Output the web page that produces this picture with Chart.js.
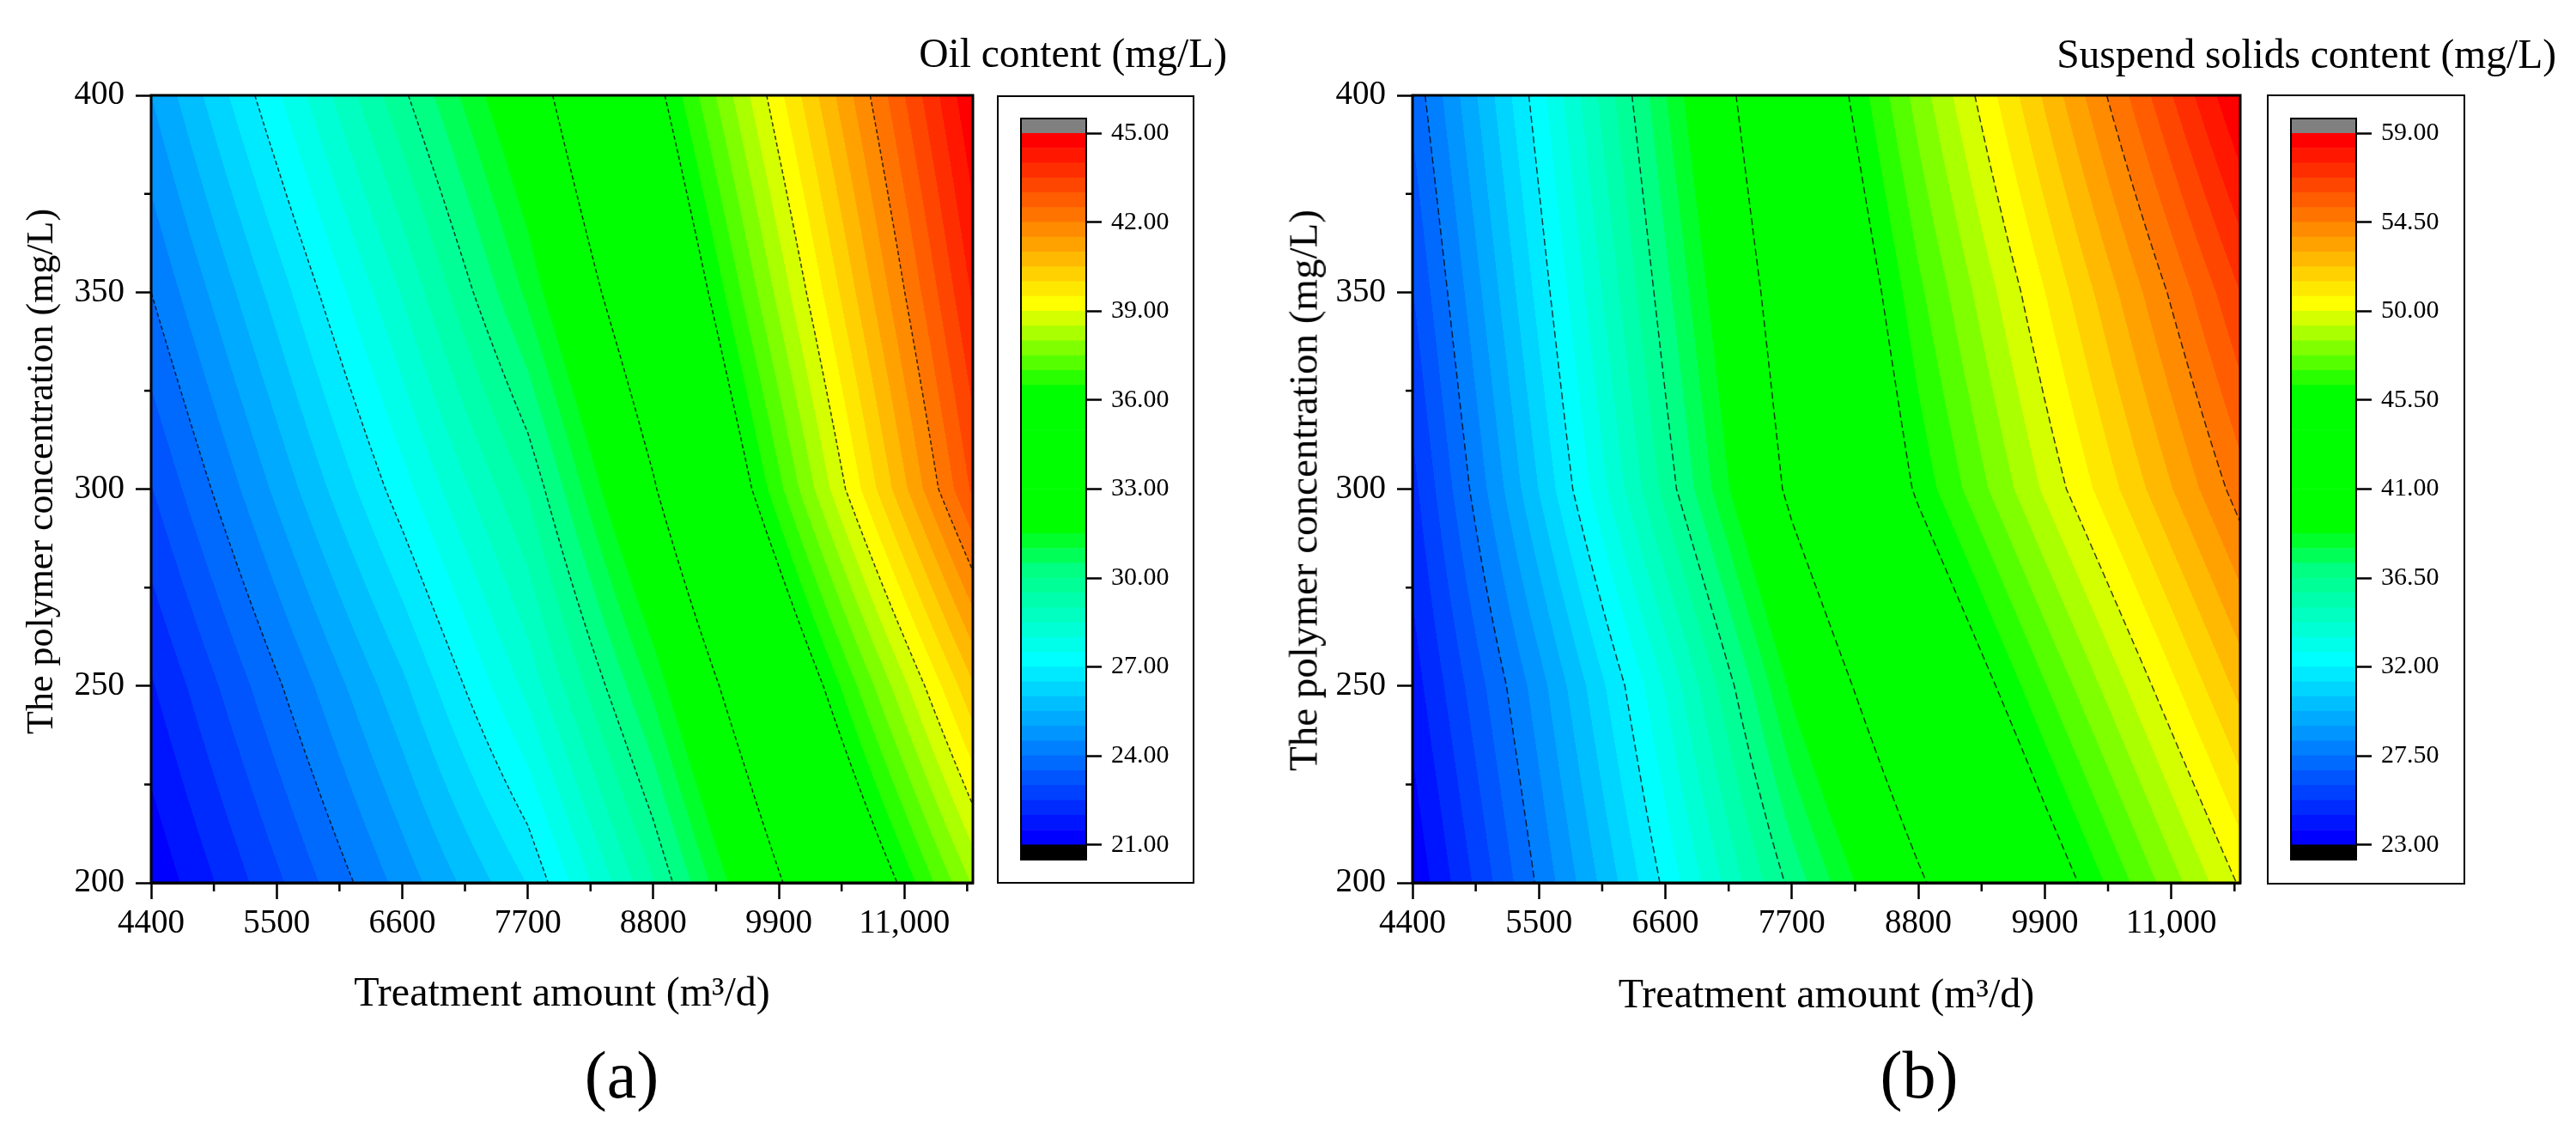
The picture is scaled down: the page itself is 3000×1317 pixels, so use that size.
<!DOCTYPE html>
<html>
<head>
<meta charset="utf-8">
<script src="https://cdn.jsdelivr.net/npm/chart.js@4.4.1/dist/chart.umd.min.js"></script>
<style>
html,body{margin:0;padding:0;background:#fff;width:3000px;height:1317px;overflow:hidden;}
canvas{position:absolute;}
.txt{position:absolute;font-family:'Liberation Serif','Times New Roman',serif;color:#000;white-space:nowrap;}
.ytitle{position:absolute;font-family:'Liberation Serif','Times New Roman',serif;color:#000;white-space:nowrap;transform:translate(-50%,-50%) rotate(-90deg);}
.box{position:absolute;border:2.5px solid #000;box-sizing:border-box;}
</style>
</head>
<body>
<div class="box" style="left:1161px;top:111px;width:230px;height:918px;"></div>
<div class="box" style="left:2640px;top:110px;width:231px;height:920px;"></div>
<canvas id="fieldA" width="1500" height="1317" style="left:0;top:0;width:1500px;height:1317px;"></canvas>
<canvas id="fieldB" width="1540" height="1317" style="left:1460px;top:0;width:1540px;height:1317px;"></canvas>
<canvas id="barA" width="200" height="930" style="left:1188px;top:100px;width:200px;height:930px;"></canvas>
<canvas id="barB" width="200" height="930" style="left:2667px;top:100px;width:200px;height:930px;"></canvas>
<div class="txt" style="right:1571px;top:39px;font-size:47.5px;line-height:47.5px;">Oil content (mg/L)</div>
<div class="txt" style="right:23px;top:40px;font-size:47.5px;line-height:47.5px;">Suspend solids content (mg/L)</div>
<div class="ytitle" style="left:47px;top:549px;font-size:44px;line-height:44px;">The polymer concentration (mg/L)</div>
<div class="ytitle" style="left:1518px;top:571px;font-size:47px;line-height:47px;">The polymer concentration (mg/L)</div>
<div class="txt" style="left:624px;width:200px;text-align:center;top:1213px;font-size:78px;line-height:78px;">(a)</div>
<div class="txt" style="left:2135px;width:200px;text-align:center;top:1213px;font-size:78px;line-height:78px;">(b)</div>
<script>
// ---------------- data ----------------
const treatmentAmount = [4400, 5500, 6600, 7700, 8800, 9900, 11000, 11600];
const polymerConc = [200, 250, 300, 350, 400];

// Oil content (mg/L), one array per polymer concentration row
const oilAt200 = [21.08, 22.89, 24.70, 26.52, 29.47, 32.89, 36.19, 38.06];
const oilAt250 = [21.94, 23.91, 25.88, 28.16, 31.13, 34.69, 38.39, 40.44];
const oilAt300 = [22.97, 25.12, 27.29, 29.55, 32.89, 36.85, 40.90, 43.11];
const oilAt350 = [24.00, 26.22, 28.54, 31.12, 34.32, 38.16, 41.99, 44.08];
const oilAt400 = [25.00, 27.42, 29.88, 32.34, 35.66, 39.36, 42.99, 44.97];

// Suspended solids content (mg/L)
const solidsAt200 = [23.11, 27.65, 32.20, 36.76, 40.75, 44.55, 48.17, 50.11];
const solidsAt250 = [24.11, 28.67, 33.57, 38.95, 43.23, 46.94, 50.55, 52.52];
const solidsAt300 = [25.00, 30.53, 36.03, 41.40, 45.71, 49.39, 52.96, 54.90];
const solidsAt350 = [25.96, 31.52, 37.00, 42.30, 46.81, 50.74, 54.63, 56.75];
const solidsAt400 = [26.95, 32.44, 37.96, 43.40, 48.08, 52.38, 56.71, 59.07];

const xTickValues = [4400, 5500, 6600, 7700, 8800, 9900, 11000];
const xTickLabels = ['4400', '5500', '6600', '7700', '8800', '9900', '11,000'];
const xMinorTicks = [4950, 6050, 7150, 8250, 9350, 10450, 11550];
const yTickValues = [200, 250, 300, 350, 400];
const yMinorTicks = [225, 275, 325, 375];

const oilRange = [21, 45];
const solidsRange = [23, 59];
const oilBarTicks = [21, 24, 27, 30, 33, 36, 39, 42, 45];
const solidsBarTicks = [23, 27.5, 32, 36.5, 41, 45.5, 50, 54.5, 59];
const oilLineLevels = [24, 27, 30, 33, 36, 39, 42];
const solidsLineLevels = [27.5, 32, 36.5, 41, 45.5, 50, 54.5];

// ---------------- style ----------------
const FONT = "'Liberation Serif','Times New Roman',serif";
Chart.defaults.font.family = FONT;
Chart.defaults.color = '#000';
const NBANDS = 48;
const CMAP = [
  [0, [0, 0, 255]],
  [12 / 47, [0, 255, 255]],
  [18 / 47, [0, 255, 130]],
  [21 / 47, [0, 255, 0]],
  [30 / 47, [0, 255, 0]],
  [36 / 47, [255, 255, 0]],
  [1, [255, 0, 0]]
];
function cmap(t) {
  for (let s = 1; s < CMAP.length; s++) {
    if (t <= CMAP[s][0] + 1e-9) {
      const t0 = CMAP[s - 1][0], c0 = CMAP[s - 1][1], t1 = CMAP[s][0], c1 = CMAP[s][1];
      const f = t1 === t0 ? 0 : (t - t0) / (t1 - t0);
      return c0.map((v, i) => Math.round(v + (c1[i] - v) * f));
    }
  }
  return CMAP[CMAP.length - 1][1];
}
const BAND_COLORS = Array.from({length: NBANDS}, (_, k) => cmap(k / (NBANDS - 1)));

function gridPoints(rows) {
  const pts = [];
  rows.forEach((row, j) => row.forEach((z, i) => pts.push({x: treatmentAmount[i], y: polymerConc[j], z: z})));
  return pts;
}

function fieldPlugin(p) {
  return {
    id: 'field' + p.name,
    beforeDatasetsDraw(chart) {
      const ctx = chart.ctx, a = chart.chartArea;
      const xs = chart.scales.x, ys = chart.scales.y;
      const pts = chart.data.datasets[0].data;
      const gx = [...new Set(pts.map(q => q.x))].sort((u, v) => u - v);
      const gy = [...new Set(pts.map(q => q.y))].sort((u, v) => u - v);
      const Z = gy.map(() => new Array(gx.length).fill(0));
      pts.forEach(q => { Z[gy.indexOf(q.y)][gx.indexOf(q.x)] = q.z; });
      const zmin = p.range[0], zmax = p.range[1];
      const step = (zmax - zmin) / NBANDS;
      const rowAt = (v) => {
        let j = 0;
        while (j < gy.length - 2 && v > gy[j + 1]) j++;
        const fy = (v - gy[j]) / (gy[j + 1] - gy[j]);
        return gx.map((_, i) => Z[j][i] * (1 - fy) + Z[j + 1][i] * fy);
      };
      const L = Math.round(a.left), T = Math.round(a.top);
      const Wd = Math.round(a.right) - L, Ht = Math.round(a.bottom) - T;
      const img = ctx.createImageData(Wd, Ht);
      const d = img.data;
      const ci = new Int32Array(Wd), cf = new Float64Array(Wd);
      for (let px = 0; px < Wd; px++) {
        const v = xs.getValueForPixel(L + px + 0.5);
        let i = 0;
        while (i < gx.length - 2 && v > gx[i + 1]) i++;
        ci[px] = i;
        cf[px] = (v - gx[i]) / (gx[i + 1] - gx[i]);
      }
      for (let py = 0; py < Ht; py++) {
        const row = rowAt(ys.getValueForPixel(T + py + 0.5));
        for (let px = 0; px < Wd; px++) {
          const i = ci[px], f = cf[px];
          const z = row[i] * (1 - f) + row[i + 1] * f;
          let c;
          if (z < zmin) c = [0, 0, 0];
          else if (z > zmax) c = [128, 128, 128];
          else c = BAND_COLORS[Math.min(NBANDS - 1, Math.floor((z - zmin) / step))];
          const o = (py * Wd + px) * 4;
          d[o] = c[0]; d[o + 1] = c[1]; d[o + 2] = c[2]; d[o + 3] = 255;
        }
      }
      ctx.putImageData(img, L, T);

      ctx.save();
      ctx.beginPath();
      ctx.rect(a.left, a.top, a.right - a.left, a.bottom - a.top);
      ctx.clip();
      ctx.strokeStyle = 'rgba(0,0,0,0.75)';
      ctx.lineWidth = 1.5;
      ctx.setLineDash(p.dash);
      p.levels.forEach(lv => {
        ctx.beginPath();
        let pen = false;
        for (let py = T; py <= T + Ht; py += 1) {
          const row = rowAt(ys.getValueForPixel(py));
          let found = null;
          for (let i = 0; i < gx.length - 1; i++) {
            const z0 = row[i], z1 = row[i + 1];
            if ((z0 - lv) * (z1 - lv) <= 0 && z0 !== z1) {
              found = gx[i] + (lv - z0) / (z1 - z0) * (gx[i + 1] - gx[i]);
              break;
            }
          }
          if (found === null) { pen = false; continue; }
          const X = xs.getPixelForValue(found);
          if (!pen) { ctx.moveTo(X, py); pen = true; } else ctx.lineTo(X, py);
        }
        ctx.stroke();
      });
      ctx.restore();
    },
    afterDraw(chart) {
      const ctx = chart.ctx, a = chart.chartArea;
      const xs = chart.scales.x, ys = chart.scales.y;
      ctx.save();
      ctx.strokeStyle = '#000';
      ctx.lineWidth = 3;
      ctx.strokeRect(a.left, a.top, a.right - a.left, a.bottom - a.top);
      ctx.lineWidth = 2.5;
      ctx.beginPath();
      xMinorTicks.forEach(v => {
        const X = xs.getPixelForValue(v);
        ctx.moveTo(X, a.bottom); ctx.lineTo(X, a.bottom + 10);
      });
      yMinorTicks.forEach(v => {
        const Y = ys.getPixelForValue(v);
        ctx.moveTo(a.left, Y); ctx.lineTo(a.left - 8, Y);
      });
      ctx.stroke();
      ctx.restore();
    }
  };
}

function makeField(id, rows, p, g) {
  const canvas = document.getElementById(id);
  return new Chart(canvas, {
    type: 'scatter',
    data: {datasets: [{data: gridPoints(rows), pointRadius: 0, pointHoverRadius: 0, showLine: false}]},
    options: {
      responsive: false, animation: false, devicePixelRatio: 1, events: [],
      layout: {padding: {left: 0, top: g.top, right: g.W - g.right, bottom: 0}},
      plugins: {legend: {display: false}, tooltip: {enabled: false}},
      scales: {
        x: {
          type: 'linear', position: 'bottom', min: 4400, max: 11600,
          afterBuildTicks: s => { s.ticks = xTickValues.map(v => ({value: v})); },
          afterFit: s => { s.height = g.H - g.bottom; },
          ticks: {
            callback: v => xTickLabels[xTickValues.indexOf(v)] || '',
            font: {family: FONT, size: 39}, color: '#000', padding: 5,
            maxRotation: 0, autoSkip: false
          },
          grid: {display: true, drawOnChartArea: false, drawTicks: true, tickLength: 19, tickWidth: 2.5, tickColor: '#000', color: '#000'},
          border: {display: true, color: '#000', width: 3},
          title: {display: true, text: 'Treatment amount (m³/d)', font: {family: FONT, size: 48}, color: '#000', padding: {top: 0, bottom: g.xTitlePad}}
        },
        y: {
          type: 'linear', position: 'left', min: 200, max: 400,
          afterBuildTicks: s => { s.ticks = yTickValues.map(v => ({value: v})); },
          afterFit: s => { s.width = g.left; },
          ticks: {callback: v => String(v), font: {family: FONT, size: 39}, color: '#000', padding: 13},
          grid: {display: true, drawOnChartArea: false, drawTicks: true, tickLength: 18, tickWidth: 2.5, tickColor: '#000', color: '#000'},
          border: {display: true, color: '#000', width: 3},
          title: {display: false}
        }
      }
    },
    plugins: [fieldPlugin(p)]
  });
}

function makeColorbar(id, range, tickVals, g) {
  const zmin = range[0], zmax = range[1];
  const step = (zmax - zmin) / NBANDS;
  const ds = [];
  ds.push({data: [[zmin - step, zmin]], backgroundColor: '#000000'});
  for (let k = 0; k < NBANDS; k++) {
    ds.push({data: [[zmin + k * step, zmin + (k + 1) * step]], backgroundColor: 'rgb(' + BAND_COLORS[k].join(',') + ')'});
  }
  ds.push({data: [[zmax, zmax + step]], backgroundColor: '#808080'});
  ds.forEach(s => Object.assign(s, {grouped: false, barPercentage: 1, categoryPercentage: 1, borderWidth: 0}));
  return new Chart(document.getElementById(id), {
    type: 'bar',
    data: {labels: [''], datasets: ds},
    options: {
      responsive: false, animation: false, devicePixelRatio: 1, events: [],
      layout: {padding: {left: 0, right: 0, top: g.top, bottom: g.bottom}},
      plugins: {legend: {display: false}, tooltip: {enabled: false}},
      scales: {
        x: {display: false},
        y: {
          position: 'right', min: zmin - step, max: zmax + step,
          afterBuildTicks: s => { s.ticks = tickVals.map(v => ({value: v})); },
          afterFit: s => { s.width = g.W - g.barW; },
          ticks: {callback: v => Number(v).toFixed(2), font: {family: FONT, size: 30}, color: '#000', padding: 11},
          grid: {display: true, drawOnChartArea: false, drawTicks: true, tickLength: 18, tickWidth: 2.5, tickColor: '#000', color: '#000'},
          border: {display: false}
        }
      }
    },
    plugins: [{
      id: 'cbframe',
      afterDraw(c) {
        const a = c.chartArea, x = c.ctx;
        x.save(); x.strokeStyle = '#000'; x.lineWidth = 2;
        x.strokeRect(a.left + 1, a.top, a.right - a.left - 1, a.bottom - a.top);
        x.restore();
      }
    }]
  });
}

makeField('fieldA', [oilAt200, oilAt250, oilAt300, oilAt350, oilAt400],
  {name: 'A', range: oilRange, levels: oilLineLevels, dash: [5, 3]},
  {W: 1500, H: 1317, left: 176, right: 1133, top: 111, bottom: 1028, xTitlePad: 130});
makeField('fieldB', [solidsAt200, solidsAt250, solidsAt300, solidsAt350, solidsAt400],
  {name: 'B', range: solidsRange, levels: solidsLineLevels, dash: [8, 4]},
  {W: 1540, H: 1317, left: 185, right: 1149, top: 111, bottom: 1028, xTitlePad: 128});
makeColorbar('barA', oilRange, oilBarTicks, {W: 200, barW: 77, top: 38, bottom: 29});
makeColorbar('barB', solidsRange, solidsBarTicks, {W: 200, barW: 77, top: 38, bottom: 26});
</script>
</body>
</html>
